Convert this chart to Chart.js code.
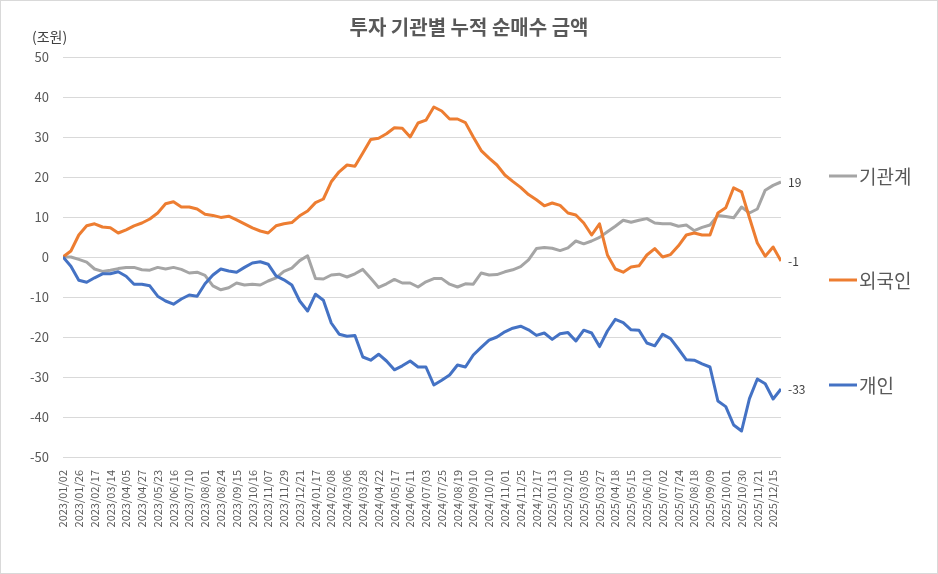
<!DOCTYPE html>
<html>
<head>
<meta charset="utf-8">
<script src="https://cdn.jsdelivr.net/npm/chart.js@4.4.1/dist/chart.umd.min.js"></script>
<style>
  html, body { margin: 0; padding: 0; background: #fff; }
  #wrap { width: 938px; height: 574px; }
</style>
</head>
<body>
<div id="wrap"><canvas id="flow-chart" width="938" height="574"></canvas></div>
<script>
// tick labels on the date axis (one every 16 trading days)
const tickLabels = [
    '2023/01/02', '2023/01/26', '2023/02/17', '2023/03/14', '2023/04/05', '2023/04/27',
    '2023/05/23', '2023/06/16', '2023/07/10', '2023/08/01', '2023/08/24', '2023/09/15',
    '2023/10/16', '2023/11/07', '2023/11/29', '2023/12/21', '2024/01/17', '2024/02/08',
    '2024/03/06', '2024/03/28', '2024/04/22', '2024/05/17', '2024/06/11', '2024/07/03',
    '2024/07/25', '2024/08/19', '2024/09/10', '2024/10/10', '2024/11/01', '2024/11/25',
    '2024/12/17', '2025/01/13', '2025/02/10', '2025/03/05', '2025/03/27', '2025/04/18',
    '2025/05/15', '2025/06/10', '2025/07/02', '2025/07/24', '2025/08/18', '2025/09/09',
    '2025/10/01', '2025/10/30', '2025/11/21', '2025/12/15'
];
const tickEvery = 16;   // trading days between labels
const sampleEvery = 8;  // trading days between the values below

const seriesNames = ['기관계', '외국인', '개인'];
const seriesColors = ['#A5A5A5', '#ED7D31', '#4472C4'];

// cumulative net buying, trillion won
const institutions = [
    0, 0, -0.6, -1.3, -3, -3.6, -3.3, -2.9, -2.6, -2.6,
    -3.2, -3.3, -2.6, -3, -2.6, -3.1, -4, -3.8, -4.6, -7.2,
    -8.2, -7.7, -6.5, -7, -6.8, -7, -6, -5.2, -3.6, -2.8,
    -0.9, 0.3, -5.4, -5.5, -4.5, -4.3, -5, -4.2, -3.1, -5.3,
    -7.6, -6.7, -5.6, -6.5, -6.5, -7.5, -6.2, -5.4, -5.4, -6.8,
    -7.5, -6.7, -6.8, -4, -4.5, -4.4, -3.7, -3.2, -2.4, -0.7,
    2.1, 2.4, 2.2, 1.6, 2.3, 4, 3.3, 4, 4.9, 6.3,
    7.7, 9.2, 8.7, 9.2, 9.6, 8.5, 8.3, 8.3, 7.7, 8,
    6.6, 7.4, 8, 10.4, 10.1, 9.8, 12.5, 11, 12, 16.7,
    17.9, 18.75
];
const foreigners = [
    0, 1.5, 5.5, 7.8, 8.3, 7.5, 7.3, 6, 6.8, 7.8,
    8.5, 9.5, 11, 13.3, 13.8, 12.5, 12.5, 12, 10.7, 10.4,
    9.9, 10.2, 9.3, 8.3, 7.3, 6.5, 6, 7.8, 8.3, 8.6,
    10.3, 11.5, 13.6, 14.5, 18.8, 21.3, 23, 22.7, 26, 29.4,
    29.7, 30.8, 32.3, 32.2, 30, 33.5, 34.2, 37.5, 36.5, 34.5,
    34.5, 33.6, 30, 26.6, 24.7, 23, 20.5, 18.9, 17.4, 15.6,
    14.3, 12.8, 13.5, 12.9, 11, 10.5, 8.5, 5.5, 8.3, 0.5,
    -3, -3.8, -2.5, -2.2, 0.5, 2.1, 0, 0.6, 2.8, 5.5,
    6, 5.5, 5.5, 11, 12.3, 17.3, 16.3, 9.8, 3.5, 0.2,
    2.5, -1
];
const individuals = [
    0, -2.3, -5.8, -6.3, -5.2, -4.2, -4.2, -3.7, -4.8, -6.8,
    -6.8, -7.2, -9.8, -11, -11.8, -10.5, -9.5, -9.8, -6.7, -4.5,
    -3, -3.5, -3.8, -2.6, -1.5, -1.2, -1.8, -4.7, -5.7, -7,
    -11, -13.5, -9.3, -10.8, -16.5, -19.3, -19.8, -19.6, -25, -25.8,
    -24.3, -26, -28.2, -27.2, -26, -27.5, -27.5, -32, -30.8, -29.5,
    -27, -27.5, -24.5, -22.6, -20.8, -20, -18.7, -17.8, -17.3, -18.2,
    -19.6, -19, -20.6, -19.2, -18.9, -21, -18.3, -19, -22.4, -18.5,
    -15.6, -16.4, -18.2, -18.3, -21.5, -22.2, -19.3, -20.4, -23, -25.7,
    -25.8, -26.7, -27.5, -36, -37.4, -42, -43.5, -35.4, -30.5, -31.7,
    -35.5, -33
];

const allSeries = [institutions, foreigners, individuals];
const lastDay = (institutions.length - 1) * sampleEvery;

const FONT = "'Noto Sans CJK KR', 'Noto Sans', sans-serif";
const textColor = '#595959';

// title, unit, legend, end labels and outer frame
const decorations = {
    id: 'decorations',
    afterDraw(chart) {
        const ctx = chart.ctx;
        ctx.save();

        ctx.strokeStyle = '#d9d9d9';
        ctx.lineWidth = 1;
        ctx.strokeRect(0.5, 0.5, chart.width - 1, chart.height - 1);

        ctx.fillStyle = textColor;
        ctx.font = 'bold 20px ' + FONT;
        ctx.textAlign = 'center';
        ctx.textBaseline = 'middle';
        ctx.fillText('투자 기관별 누적 순매수 금액', chart.width / 2, 27);

        ctx.fillStyle = '#404040';
        ctx.font = '14px ' + FONT;
        ctx.textAlign = 'left';
        ctx.fillText('(조원)', 32, 37);

        // end-of-line value labels
        ctx.font = '12px ' + FONT;
        chart.data.datasets.forEach((ds, i) => {
            const pts = chart.getDatasetMeta(i).data;
            const last = pts[pts.length - 1];
            const value = ds.data[ds.data.length - 1].y;
            ctx.fillText(String(Math.round(value)), last.x + 7, last.y);
        });

        // legend on the right
        const legendY = [176, 280, 385];
        chart.data.datasets.forEach((ds, i) => {
            ctx.strokeStyle = ds.borderColor;
            ctx.lineWidth = 3;
            ctx.beginPath();
            ctx.moveTo(829, legendY[i]);
            ctx.lineTo(857, legendY[i]);
            ctx.stroke();
            ctx.fillStyle = textColor;
            ctx.font = '19px ' + FONT;
            ctx.fillText(ds.label, 859, legendY[i] + 1);
        });
        ctx.restore();
    }
};

new Chart(document.querySelector('#flow-chart').getContext('2d'), {
    type: 'line',
    data: {
        datasets: allSeries.map((values, i) => ({
            label: seriesNames[i],
            data: values.map((v, k) => ({ x: k * sampleEvery, y: v })),
            borderColor: seriesColors[i],
            backgroundColor: seriesColors[i],
            borderWidth: 3,
            borderJoinStyle: 'round',
            pointRadius: 0,
            tension: 0,
            order: 3 - i
        }))
    },
    options: {
        responsive: false,
        animation: false,
        layout: { padding: { top: 57, right: 157, left: 0, bottom: 0 } },
        plugins: {
            legend: { display: false },
            title: { display: false },
            tooltip: { enabled: false }
        },
        scales: {
            x: {
                type: 'linear',
                min: 0,
                max: lastDay,
                grid: { display: false },
                border: { display: false },
                ticks: {
                    stepSize: tickEvery,
                    includeBounds: false,
                    autoSkip: false,
                    minRotation: 90,
                    maxRotation: 90,
                    padding: 5,
                    color: textColor,
                    font: { family: FONT, size: 11 },
                    callback: value => tickLabels[value / tickEvery] || ''
                },
                afterFit: scale => { scale.height = 117; }
            },
            y: {
                min: -50,
                max: 50,
                grid: { color: '#d9d9d9', lineWidth: 1, drawTicks: false },
                border: { display: false },
                ticks: {
                    stepSize: 10,
                    padding: 14,
                    color: textColor,
                    font: { family: FONT, size: 13 }
                },
                afterFit: scale => { scale.width = 63; }
            }
        }
    },
    plugins: [decorations]
});
</script>
</body>
</html>
